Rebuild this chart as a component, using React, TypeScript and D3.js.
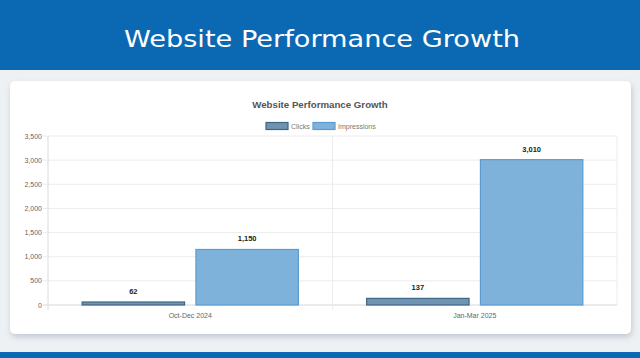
import React from "react";
import * as d3 from "d3";

const categories = ["Oct-Dec 2024", "Jan-Mar 2025"];
const seriesNames = ["Clicks", "Impressions"];
const clicks = [62, 137];
const impressions = [1150, 3010];
const yTicks = [0, 500, 1000, 1500, 2000, 2500, 3000, 3500];

const fills = ["#6f94b3", "#7eb2da"];
const strokes = ["#3e6685", "#5b9bd0"];

export default function App() {
  const W = 640, H = 358;
  const plot = { left: 48, right: 617, top: 136, bottom: 305 };
  const x0 = d3.scaleBand<string>().domain(categories).range([plot.left, plot.right]).paddingInner(0).paddingOuter(0);
  const cw = x0.bandwidth();
  const y = d3.scaleLinear().domain([0, 3500]).range([plot.bottom, plot.top]);
  const fmt = d3.format(",");
  const data = [clicks, impressions];
  const font = "'Liberation Sans', Arial, sans-serif";
  const bw = cw * 0.8 / 2 * 0.9;

  return (
    <svg width={W} height={H} style={{ position: "absolute", left: 0, top: 0, display: "block" }} fontFamily={font}>
      <defs>
        <filter id="sh" x="-5%" y="-10%" width="110%" height="125%">
          <feDropShadow dx="1" dy="3" stdDeviation="3" floodColor="#8a96a3" floodOpacity="0.45" />
        </filter>
      </defs>
      <rect x={0} y={0} width={W} height={H} fill="#eef1f4" />
      <rect x={0} y={0} width={W} height={70} fill="#0b69b3" />
      <text x={124} y={46.5} fill="#ffffff" fontSize={23} fontFamily="'DejaVu Sans', sans-serif" textLength={396} lengthAdjust="spacingAndGlyphs">Website Performance Growth</text>
      <rect x={0} y={352} width={W} height={6} fill="#0b69b3" />
      <rect x={10} y={81} width={621} height={253} rx={5} fill="#ffffff" filter="url(#sh)" />

      <text x={320} y={108} textAnchor="middle" fill="#555" fontSize={9.7} fontWeight="bold">Website Performance Growth</text>

      {/* legend */}
      {[{ x: 266, label: "Clicks" }, { x: 313, label: "Impressions" }].map((l, i) => (
        <g key={l.label}>
          <rect x={l.x} y={122.5} width={22} height={7} fill={fills[i]} stroke={strokes[i]} strokeWidth={1.2} />
          <text x={l.x + 25} y={129} fill="#777" fontSize={7}>{l.label}</text>
        </g>
      ))}

      {/* grid */}
      {yTicks.map(t => (
        <g key={t}>
          <line x1={plot.left - 5} x2={plot.right} y1={y(t)} y2={y(t)} stroke={t === 0 ? "#d6d6d6" : "#ececec"} strokeWidth={1} />
          <text x={42} y={y(t) + 2.5} textAnchor="end" fill="#666" fontSize={7}>{fmt(t)}</text>
        </g>
      ))}
      {[plot.left, plot.left + cw, plot.right].map((xv, i) => (
        <line key={i} x1={xv} x2={xv} y1={plot.top} y2={plot.bottom + (i === 2 ? 0 : 5)} stroke={i === 0 ? "#dcdcdc" : "#ececec"} strokeWidth={1} />
      ))}

      {/* bars */}
      {categories.map((c, ci) => (
        <g key={c}>
          {seriesNames.map((s, si) => {
            const v = data[si][ci];
            const bx = (x0(c) as number) + cw * 0.1 + si * (cw * 0.4) + (cw * 0.4 - bw) / 2;
            return (
              <g key={s}>
                <rect x={bx} y={y(v)} width={bw} height={plot.bottom - y(v)} fill={fills[si]} stroke={strokes[si]} strokeWidth={1.2} />
                <text x={bx + bw / 2} y={y(v) - 8} textAnchor="middle" fill="#222" fontSize={7.5} fontWeight="bold">{fmt(v)}</text>
              </g>
            );
          })}
          <text x={(x0(c) as number) + cw / 2} y={318} textAnchor="middle" fill="#666" fontSize={7}>{c}</text>
        </g>
      ))}
    </svg>
  );
}
